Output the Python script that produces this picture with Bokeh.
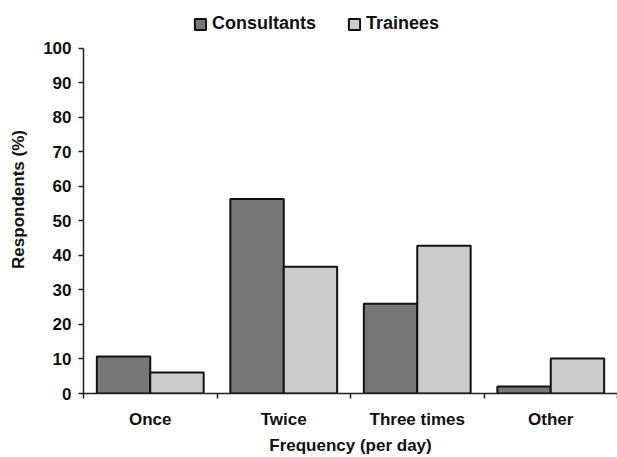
from bokeh.plotting import figure
from bokeh.models import ColumnDataSource, FixedTicker, Legend, LegendItem, Range1d
from bokeh.transform import dodge
from bokeh.embed import file_html
from bokeh.resources import INLINE

# Survey results: how often per day, by respondent group (%)
categories = ["Once", "Twice", "Three times", "Other"]
consultants = [10.7, 56.3, 26.0, 2.0]
trainees = [6.1, 36.7, 42.8, 10.1]
y_ticks = [0, 10, 20, 30, 40, 50, 60, 70, 80, 90, 100]

FONT = "Liberation Sans"
TEXT = "#111111"

W, H = 617, 457
TOP, BOTTOM, LEFT = 5, 60, 83
AXIS_PX = 349  # pixel length of the 0-100 axis; headroom above it holds the legend
frame_h = H - TOP - BOTTOM
y_max = 100 * frame_h / AXIS_PX

idx = list(range(len(categories)))
src = ColumnDataSource(dict(
    pos=[i + 0.5 for i in idx],
    cat=categories,
    consultants=consultants,
    trainees=trainees,
))

p = figure(width=W, height=H, output_backend="svg", toolbar_location=None,
           x_range=Range1d(0, len(categories)), y_range=Range1d(0, y_max),
           min_border_left=LEFT, min_border_right=0, min_border_top=TOP, min_border_bottom=BOTTOM)
p.outline_line_color = None
p.background_fill_color = "white"
p.border_fill_color = "white"
p.grid.visible = False

bar_w = 0.4
r_c = p.vbar(x=dodge("pos", -0.2, range=p.x_range), top="consultants", width=bar_w, source=src,
             fill_color="#777777", line_color="#111111", line_width=2)
r_t = p.vbar(x=dodge("pos", 0.2, range=p.x_range), top="trainees", width=bar_w, source=src,
             fill_color="#cbcbcb", line_color="#111111", line_width=2)

# x axis: labels at category centres, tick marks on the boundaries between them
xa = p.xaxis[0]
xa.ticker = FixedTicker(ticks=[i + 0.5 for i in idx], minor_ticks=[float(i) for i in range(len(categories) + 1)])
xa.major_label_overrides = {i + 0.5: c for i, c in zip(idx, categories)}
xa.major_tick_out = 0
xa.major_tick_in = 0
xa.minor_tick_out = 5
xa.minor_tick_in = 0
xa.minor_tick_line_color = "#222222"
xa.minor_tick_line_width = 1.5
xa.major_label_standoff = 11
xa.axis_label = "Frequency (per day)"
xa.axis_label_standoff = 4

ya = p.yaxis[0]
ya.ticker = FixedTicker(ticks=y_ticks, minor_ticks=[])
ya.bounds = (0, 100)
ya.major_tick_out = 5
ya.major_tick_in = 0
ya.major_tick_line_color = "#222222"
ya.major_tick_line_width = 1.5
ya.major_label_standoff = 7
ya.axis_label = "Respondents (%)"
ya.axis_label_standoff = 12

for ax in (xa, ya):
    ax.axis_line_color = "#222222"
    ax.axis_line_width = 1.5
    ax.major_label_text_font = FONT
    ax.major_label_text_font_style = "bold"
    ax.major_label_text_font_size = "17px"
    ax.major_label_text_color = TEXT
    ax.axis_label_text_font = FONT
    ax.axis_label_text_font_style = "bold"
    ax.axis_label_text_font_size = "17px"
    ax.axis_label_text_color = TEXT

# legend in the headroom above the 100 mark (offset from the frame's bottom-left)
legend = Legend(items=[LegendItem(label="Consultants", renderers=[r_c]),
                       LegendItem(label="Trainees", renderers=[r_t])],
                orientation="horizontal", location=(110, 359),
                glyph_width=14, glyph_height=14, label_standoff=5, spacing=31,
                padding=0, margin=0, border_line_color=None, background_fill_alpha=0,
                label_text_font=FONT, label_text_font_style="bold",
                label_text_font_size="18px", label_text_color=TEXT)
p.add_layout(legend, "center")

open("out.html", "w").write(file_html(p, INLINE))
